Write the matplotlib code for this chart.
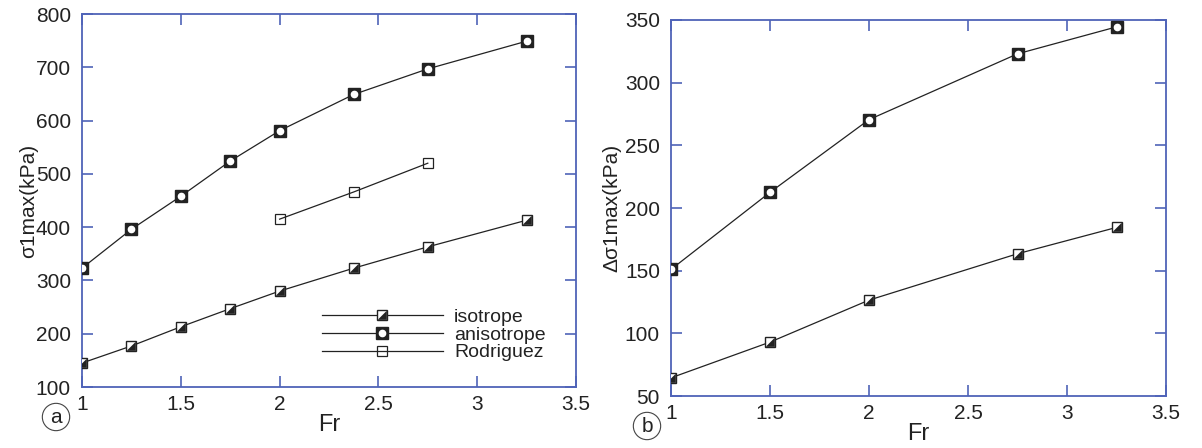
import matplotlib
matplotlib.use("Agg")
import matplotlib.pyplot as plt
from matplotlib.path import Path
from matplotlib.legend_handler import HandlerTuple

plt.rcParams['font.family'] = ['Liberation Sans', 'DejaVu Sans']

# ---- data: panel (a) ----
fr_a_iso = [1.0, 1.25, 1.5, 1.75, 2.0, 2.375, 2.75, 3.25]
s_a_iso = [145, 177, 213, 247, 280, 323, 363, 413]
fr_a_aniso = [1.0, 1.25, 1.5, 1.75, 2.0, 2.375, 2.75, 3.25]
s_a_aniso = [323, 396, 458, 524, 581, 649, 697, 749]
fr_a_rod = [2.0, 2.375, 2.75]
s_a_rod = [415, 466, 520]

# ---- data: panel (b) ----
fr_b = [1.0, 1.5, 2.0, 2.75, 3.25]
d_b_iso = [64.5, 93, 126.5, 163.5, 184.5]
d_b_aniso = [151, 212.5, 270.5, 323, 344.5]

labels = ['isotrope', 'anisotrope', 'Rodriguez']
xticks = [1, 1.5, 2, 2.5, 3, 3.5]
xtick_labels = ['1', '1.5', '2', '2.5', '3', '3.5']
yticks_a = [100, 200, 300, 400, 500, 600, 700, 800]
yticks_b = [50, 100, 150, 200, 250, 300, 350]

W, H = 1202, 448
fig = plt.figure(figsize=(W / 100, H / 100), dpi=100)

def box(l, t, r, b):
    return [l / W, (H - b) / H, (r - l) / W, (b - t) / H]

ax1 = fig.add_axes(box(82, 14, 576, 387))
ax2 = fig.add_axes(box(671, 20, 1166, 396))

LC = '#222222'
BLUE = '#4f63b8'
TXT = '#222222'
FS = 15

tri = Path([(-1, -1), (1, -1), (1, 1), (-1, -1)],
           [Path.MOVETO, Path.LINETO, Path.LINETO, Path.CLOSEPOLY])

def draw_iso(ax, x, y):
    a, = ax.plot(x, y, '-', color=LC, lw=0.9, marker='s', ms=6.5,
                 mfc='white', mec=LC, mew=1.0, zorder=3)
    b, = ax.plot(x, y, ls='none', marker=tri, ms=5.5, mfc=LC, mec=LC,
                 mew=0.5, zorder=4)
    return (a, b)

def draw_aniso(ax, x, y):
    a, = ax.plot(x, y, '-', color=LC, lw=0.9, marker='s', ms=8,
                 mfc=LC, mec=LC, zorder=3)
    b, = ax.plot(x, y, ls='none', marker='o', ms=4.5, mfc='white',
                 mec='white', zorder=4)
    return (a, b)

def draw_rod(ax, x, y):
    a, = ax.plot(x, y, '-', color=LC, lw=0.9, marker='s', ms=6.5,
                 mfc='none', mec=LC, mew=0.9, zorder=3)
    return a

h1 = draw_iso(ax1, fr_a_iso, s_a_iso)
h2 = draw_aniso(ax1, fr_a_aniso, s_a_aniso)
h3 = draw_rod(ax1, fr_a_rod, s_a_rod)

draw_iso(ax2, fr_b, d_b_iso)
draw_aniso(ax2, fr_b, d_b_aniso)

leg = ax1.legend([h1, h2, h3], labels, handler_map={tuple: HandlerTuple(ndivide=1)},
                 loc='center left', bbox_to_anchor=((322 - 82) / 494, (387 - 335) / 373),
                 frameon=False, borderpad=0, borderaxespad=0, numpoints=1,
                 handlelength=6.2, handletextpad=0.6, labelspacing=0.0,
                 prop={'size': 14})
for t in leg.get_texts():
    t.set_color(TXT)

def style(ax, ylim, yticks):
    ax.set_xlim(1, 3.5)
    ax.set_ylim(*ylim)
    ax.set_xticks(xticks)
    ax.set_xticklabels(xtick_labels)
    ax.set_yticks(yticks)
    for s in ax.spines.values():
        s.set_color(BLUE)
        s.set_linewidth(1.3)
    ax.tick_params(direction='in', length=8, width=1.2, color=BLUE,
                   top=True, right=True, labelsize=FS, labelcolor=TXT)
    ax.tick_params(axis='y', pad=8)
    ax.tick_params(axis='x', pad=6)

style(ax1, (100, 800), yticks_a)
style(ax2, (50, 350), yticks_b)

ax1.set_xlabel('Fr', fontsize=17, color=TXT)
ax1.xaxis.set_label_coords(0.5, -0.102)
ax1.xaxis.label.set_va('center')
ax1.set_ylabel('σ1max(kPa)', fontsize=FS, color=TXT)
ax1.yaxis.set_label_coords(-0.109, 0.5)
ax1.yaxis.label.set_va('center')

ax2.set_xlabel('Fr', fontsize=17, color=TXT)
ax2.xaxis.set_label_coords(0.5, -0.101)
ax2.xaxis.label.set_va('center')
ax2.set_ylabel('Δσ1max(kPa)', fontsize=FS, color=TXT)
ax2.yaxis.set_label_coords(-0.119, 0.5)
ax2.yaxis.label.set_va('center')

for lab, (cx, cy) in [('a', (56, 417)), ('b', (647, 426))]:
    fig.text(cx / W, 1 - cy / H, lab, ha='center', va='center', fontsize=FS,
             color=TXT, bbox=dict(boxstyle='circle,pad=0.2', fc='white',
                                  ec='#444444', lw=0.8))

fig.savefig('out.png', dpi=100)
